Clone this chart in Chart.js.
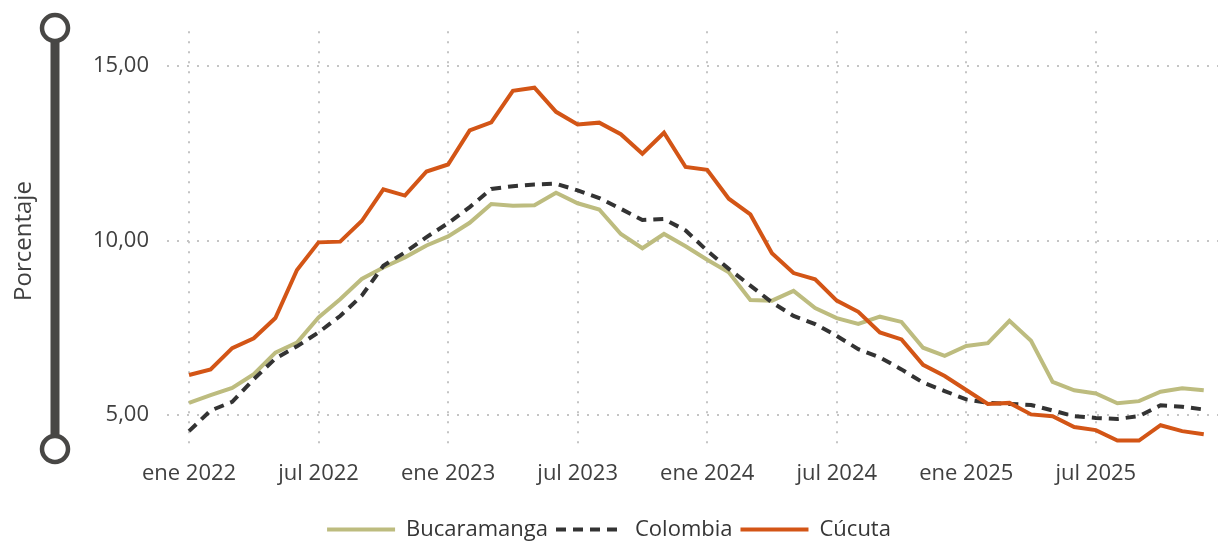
<!DOCTYPE html>
<html>
<head>
<meta charset="utf-8">
<script src="https://cdn.jsdelivr.net/npm/chart.js@4.4.1/dist/chart.umd.min.js"></script>
<style>
  html, body { margin: 0; padding: 0; background: #ffffff; }
  #wrap { width: 1218px; height: 541px; position: relative; }
</style>
</head>
<body>
<div id="wrap"><canvas id="chart" width="1218" height="541"></canvas></div>
<script>
// Monthly rate (%), January 2022 through December 2025
const bucaramanga = [5.35, 5.57, 5.78, 6.17, 6.79, 7.08, 7.80, 8.32, 8.90, 9.23,
                     9.52, 9.86, 10.12, 10.51, 11.05, 11.00, 11.01, 11.37, 11.07, 10.89,
                     10.19, 9.78, 10.19, 9.84, 9.45, 9.09, 8.30, 8.28, 8.56, 8.07,
                     7.78, 7.61, 7.82, 7.67, 6.93, 6.70, 6.98, 7.06, 7.70, 7.13,
                     5.95, 5.71, 5.62, 5.34, 5.40, 5.67, 5.77, 5.71];
const colombia = [4.54, 5.13, 5.38, 6.03, 6.62, 6.97, 7.37, 7.84, 8.42, 9.28,
                  9.66, 10.10, 10.50, 10.96, 11.48, 11.56, 11.61, 11.63, 11.44, 11.22,
                  10.91, 10.59, 10.62, 10.29, 9.71, 9.19, 8.71, 8.23, 7.84, 7.61,
                  7.27, 6.89, 6.65, 6.31, 5.93, 5.69, 5.45, 5.35, 5.32, 5.29,
                  5.13, 4.97, 4.92, 4.89, 4.97, 5.28, 5.24, 5.16];
const cucuta = [6.15, 6.31, 6.92, 7.20, 7.78, 9.16, 9.95, 9.97, 10.56, 11.47,
                11.29, 11.98, 12.18, 13.16, 13.39, 14.29, 14.38, 13.69, 13.33, 13.38,
                13.05, 12.49, 13.09, 12.11, 12.03, 11.20, 10.75, 9.64, 9.07, 8.89,
                8.28, 7.96, 7.37, 7.17, 6.44, 6.12, 5.72, 5.32, 5.35, 5.02,
                4.97, 4.66, 4.57, 4.27, 4.27, 4.71, 4.54, 4.45];

// X-axis ticks: month index (0 = ene 2022) and its label
const xTickIndex = [0, 6, 12, 18, 24, 30, 36, 42];
const xTickLabels = ['ene 2022', 'jul 2022', 'ene 2023', 'jul 2023', 'ene 2024', 'jul 2024', 'ene 2025', 'jul 2025'];
const yTickValues = [5, 10, 15];

const FONT = "'Open Sans', 'Noto Sans', sans-serif";
const TEXT = '#404040';
const GRID = '#c4c4c4';

const toPoints = arr => arr.map((v, i) => ({ x: i, y: v }));

// Vertical rail with end rings and the axis title on the left
const leftRail = {
  id: 'leftRail',
  beforeDraw(chart) {
    const { ctx } = chart;
    const cx = 55;
    const top = 28, bottom = 449;
    ctx.save();
    ctx.fillStyle = '#484745';
    ctx.fillRect(cx - 4.5, top, 9, bottom - top);
    [top, bottom].forEach(cy => {
      ctx.beginPath();
      ctx.arc(cx, cy, 13, 0, Math.PI * 2);
      ctx.fillStyle = '#ffffff';
      ctx.fill();
      ctx.lineWidth = 4.5;
      ctx.strokeStyle = '#484745';
      ctx.stroke();
    });
    ctx.translate(24, 241);
    ctx.rotate(-Math.PI / 2);
    ctx.fillStyle = TEXT;
    ctx.font = "24px " + FONT;
    ctx.textAlign = 'center';
    ctx.textBaseline = 'middle';
    ctx.fillText('Porcentaje', 0, 0);
    ctx.restore();
  }
};

new Chart(document.getElementById('chart'), {
  type: 'line',
  data: {
    datasets: [
      { label: 'Bucaramanga', data: toPoints(bucaramanga), borderColor: '#bdbc7f', backgroundColor: '#bdbc7f',
        borderWidth: 4, pointRadius: 0, pointStyle: 'line', tension: 0, order: 2 },
      { label: 'Colombia', data: toPoints(colombia), borderColor: '#333333', backgroundColor: '#333333',
        borderWidth: 4, borderDash: [10, 7], pointRadius: 0, pointStyle: 'line', tension: 0, order: 1 },
      { label: 'Cúcuta', data: toPoints(cucuta), borderColor: '#d35516', backgroundColor: '#d35516',
        borderWidth: 4, pointRadius: 0, pointStyle: 'line', tension: 0, order: 0 }
    ]
  },
  options: {
    responsive: false,
    animation: false,
    layout: { padding: { top: 30.5, left: 0, right: 0, bottom: -9.5 } },
    scales: {
      x: {
        type: 'linear',
        min: -1.02,
        max: 47.66,
        afterBuildTicks: scale => { scale.ticks = xTickIndex.map(v => ({ value: v })); },
        afterFit: scale => { scale.height = 60.5; },
        ticks: {
          callback: value => xTickLabels[xTickIndex.indexOf(value)],
          font: { family: FONT, size: 22 },
          color: TEXT,
          padding: 11,
          maxRotation: 0,
          autoSkip: false
        },
        grid: { color: GRID, lineWidth: 2, drawTicks: false },
        border: { display: false, dash: [2, 8] }
      },
      y: {
        min: 4,
        max: 16,
        afterBuildTicks: scale => { scale.ticks = yTickValues.map(v => ({ value: v })); },
        afterFit: scale => { scale.width = 167; },
        ticks: {
          callback: value => value.toFixed(2).replace('.', ','),
          font: { family: FONT, size: 22 },
          color: TEXT,
          padding: 18
        },
        grid: { color: GRID, lineWidth: 2, drawTicks: false },
        border: { display: false, dash: [2, 8] }
      }
    },
    plugins: {
      legend: {
        position: 'bottom',
        labels: {
          usePointStyle: true,
          pointStyleWidth: 68,
          padding: 8,
          color: '#363636',
          font: { family: FONT, size: 22 },
          sort: (a, b) => a.datasetIndex - b.datasetIndex,
          generateLabels: chart => {
            const items = Chart.defaults.plugins.legend.labels.generateLabels(chart);
            items.forEach(item => {
              const ds = chart.data.datasets[item.datasetIndex];
              item.strokeStyle = ds.borderColor;
              item.lineWidth = ds.borderWidth;
              item.lineDash = ds.borderDash || [];
              item.lineCap = 'butt';
            });
            return items;
          }
        }
      },
      tooltip: { enabled: false }
    }
  },
  plugins: [leftRail]
});
</script>
</body>
</html>
